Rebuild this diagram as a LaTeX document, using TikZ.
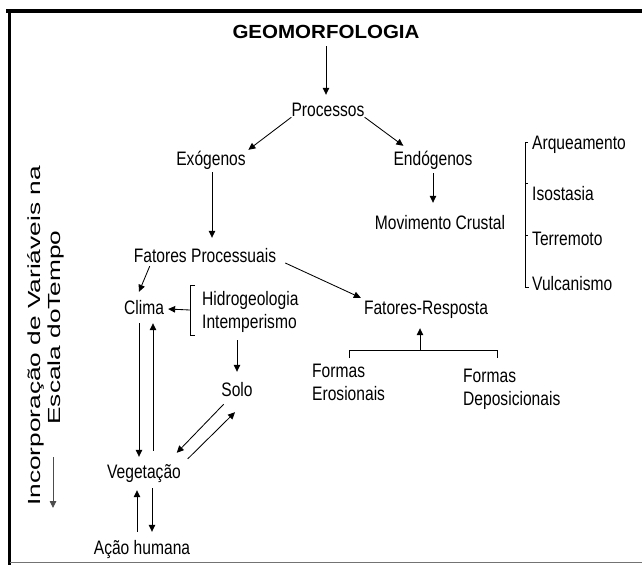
\documentclass[tikz,border=0pt]{standalone}
\usepackage{fontspec}
\setmainfont{Liberation Sans}
\newfontfamily\lfont[FakeStretch=0.8]{Liberation Sans}
\newfontfamily\gfont[FakeStretch=1.08]{Liberation Sans}
\newfontfamily\vfont[FakeStretch=1.5]{Liberation Sans}
\usetikzlibrary{arrows.meta}
\begin{document}
\begin{tikzpicture}[x=1pt,y=-1pt,
  lbl/.style={font=\lfont\fontsize{19.5}{23}\selectfont, inner sep=0pt, text height=14pt, text depth=4pt, anchor=base},
  lbltwo/.style={font=\lfont\fontsize{19.5}{23}\selectfont, inner sep=0pt, align=left, anchor=north west},
  vtext/.style={font=\vfont\fontsize{17.5}{20}\selectfont, inner sep=0pt, anchor=base, rotate=90},
  arr/.style={-{Triangle[length=7pt,width=6.5pt]}, line width=0.85pt},
  brk/.style={line width=0.85pt}]
\useasboundingbox (0,0) rectangle (642,565);
% frame
\draw[line width=4.5pt] (6,11) -- (642,11);
\draw[line width=3pt] (9.5,9) -- (9.5,565);
\draw[black!55, line width=1pt] (9.5,562.5) -- (642,562.5);
% nodes
\node[lbl, font=\gfont\bfseries\fontsize{19}{23}\selectfont] (geo) at (326,38.5) {GEOMORFOLOGIA};
\node[lbl] (proc) at (328,116) {Processos};
\node[lbl] (exo) at (211,165) {Exógenos};
\node[lbl] (endo) at (433,165) {Endógenos};
\node[lbl] (mov) at (440,229) {Movimento Crustal};
\node[lbl] (fp) at (205,262) {Fatores Processuais};
\node[lbl] (clima) at (144,314) {Clima};
\node[lbl, anchor=base west] (hid) at (202,305) {Hidrogeologia};
\node[lbl, anchor=base west] (int) at (202,328) {Intemperismo};
\node[lbl] (solo) at (237,396) {Solo};
\node[lbl] (veg) at (144,478) {Vegetação};
\node[lbl] (acao) at (142,554) {Ação humana};
\node[lbl] (fr) at (426,314) {Fatores-Resposta};
\node[lbltwo] (fe) at (312,363.4) {Formas\\Erosionais};
\node[lbltwo] (fd) at (463,368.4) {Formas\\Deposicionais};
\node[lbl, anchor=base west] (arq) at (532,149) {Arqueamento};
\node[lbl, anchor=base west] (iso) at (532,200) {Isostasia};
\node[lbl, anchor=base west] (ter) at (532,245) {Terremoto};
\node[lbl, anchor=base west] (vul) at (532,290) {Vulcanismo};
\node[vtext] (inc) at (40,336) {Incorporação de Variáveis na};
\node[vtext] (esc) at (60,327.5) {Escala doTempo};
% brackets
\draw[brk] (195,285) -- (190,285) -- (190,335) -- (195,335);
\coordinate (hb) at (190,310);
\draw[brk] (528,142) -- (525,142) -- (525,287) -- (529,287);
\draw[brk] (525,183) -- (527.5,183);
\draw[brk] (525,235) -- (527.5,235);
\draw[brk] (349,358) -- (349,350) -- (497,350) -- (497,358);
\coordinate (fb) at (420,350);
\coordinate (tA) at (53,457);
\coordinate (tB) at (53,508);
% connectors
\draw[arr] ([yshift=-3.5pt]geo.south) -- ([yshift=7pt]geo.south |- proc.north);
\draw[arr] ([yshift=3pt]proc.south west) -- ([xshift=2.5pt,yshift=1pt]exo.north east);
\draw[arr] ([yshift=3pt]proc.south east) -- ([xshift=10pt,yshift=5pt]endo.north west);
\draw[arr] ([yshift=-4pt]endo.south) -- ([yshift=12pt]endo.south |- mov.north);
\draw[arr] ([xshift=1pt,yshift=-3pt]exo.south) -- ([xshift=1pt,yshift=10pt]exo.south |- fp.north);
\draw[arr] ([xshift=16pt]fp.south west) -- ([xshift=-5pt,yshift=8pt]clima.north);
\draw[arr] ([xshift=9pt,yshift=-6pt]fp.east) -- ([xshift=-3pt,yshift=2pt]fr.north west);
\draw[arr] (hb) -- ([xshift=4pt]clima.east);
\draw[arr] ([yshift=-8pt]int.south -| solo.north) -- ([yshift=10pt]solo.north);
\draw[arr] ([xshift=-5pt,yshift=-5pt]clima.south) -- ([xshift=-5pt,yshift=7pt]veg.north);
\draw[arr] ([xshift=9pt,yshift=13pt]veg.north) -- ([xshift=9pt,yshift=-5pt]clima.south);
\draw[arr] ([xshift=2.5pt,yshift=-4pt]solo.south west) -- ([xshift=-4.3pt,yshift=11pt]veg.north east);
\draw[arr] ([xshift=6.7pt,yshift=5pt]veg.north east) -- ([xshift=-2pt,yshift=-12pt]solo.south);
\draw[arr] ([xshift=-5pt,yshift=8pt]acao.north) -- ([xshift=-7pt,yshift=-8pt]veg.south);
\draw[arr] ([xshift=8pt,yshift=-6pt]veg.south) -- ([xshift=10pt,yshift=8pt]acao.north);
\draw[arr] (fb) -- ([xshift=-6pt,yshift=-10pt]fr.south);
\draw[arr, draw=black!70, fill=black] (tA) -- (tB);
\end{tikzpicture}
\end{document}
